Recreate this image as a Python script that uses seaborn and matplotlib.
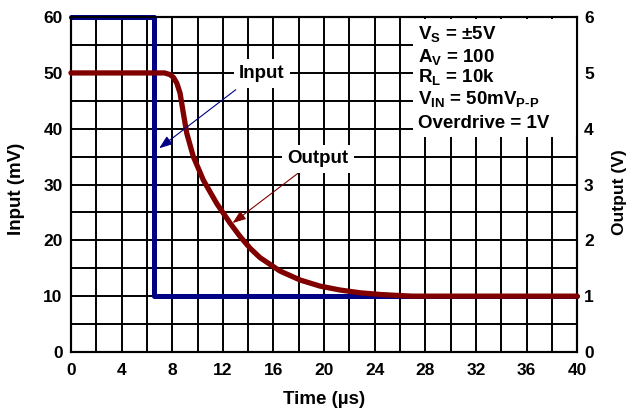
import numpy as np
import pandas as pd
import seaborn as sns
import matplotlib.pyplot as plt
from matplotlib.patches import Rectangle

# input step (mV) and output response (V) vs time (us)
t_in = [0, 6.56, 6.56, 40]
v_in = [60, 60, 10, 10]

t_out = [0, 7.4, 7.83, 8.1, 8.36, 8.62, 8.88, 9.15, 9.67, 10.46, 11.52, 12.57,
         13.36, 14.15, 14.94, 16.52, 18.1, 19.68, 21.26, 22.85, 24.43, 26.0,
         27.0, 40]
v_out = [5.0, 5.0, 4.97, 4.92, 4.82, 4.64, 4.28, 3.92, 3.5, 3.08, 2.66, 2.31,
         2.07, 1.86, 1.69, 1.45, 1.29, 1.18, 1.11, 1.06, 1.03, 1.01,
         1.0, 1.0]

x_ticks = np.arange(0, 41, 4)
y_ticks_mv = np.arange(0, 61, 10)
y_ticks_v = np.arange(0, 7, 1)

conditions = [r'V$_{\mathbf{S}}$ = ±5V',
              r'A$_{\mathbf{V}}$ = 100',
              r'R$_{\mathbf{L}}$ = 10k',
              r'V$_{\mathbf{IN}}$ = 50mV$_{\mathbf{P\text{-}P}}$',
              'Overdrive = 1V']

sns.set_style('white')
plt.rcParams['font.family'] = ['Liberation Sans', 'DejaVu Sans']
plt.rcParams['font.weight'] = 'bold'
plt.rcParams['mathtext.fontset'] = 'custom'
plt.rcParams['mathtext.rm'] = 'Liberation Sans:bold'
plt.rcParams['mathtext.bf'] = 'Liberation Sans:bold'
for k in ('text.color', 'axes.labelcolor', 'xtick.color', 'ytick.color'):
    plt.rcParams[k] = 'black'

navy = '#000085'
maroon = '#800000'
fs = 13.5

fig, ax = plt.subplots(figsize=(6.28, 4.18), dpi=100)
fig.subplots_adjust(left=0.113, right=0.919, top=0.959, bottom=0.158)

dfi = pd.DataFrame({'t': t_in, 'v': v_in})
sns.lineplot(data=dfi, x='t', y='v', sort=False, estimator=None,
             color=navy, lw=3.6, ax=ax, zorder=3, clip_on=False)

ax.set_xlim(0, 40)
ax.set_ylim(0, 60)
ax.set_xticks(x_ticks)
ax.set_yticks(y_ticks_mv)
ax.set_xticks(np.arange(0, 41, 2), minor=True)
ax.set_yticks(np.arange(0, 61, 5), minor=True)
ax.grid(which='both', color='black', lw=1.4)
ax.set_axisbelow(True)
ax.tick_params(which='both', length=0, labelsize=12.5)
ax.tick_params(axis='y', pad=6)
ax.tick_params(axis='x', pad=8)
ax.set_xlabel('Time (µs)', fontsize=fs, fontweight='bold')
ax.set_ylabel('Input (mV)', fontsize=fs, fontweight='bold')
ax.xaxis.set_label_coords(0.5, -0.117)
ax.yaxis.set_label_coords(-0.091, 0.487)

ax2 = ax.twinx()
dfo = pd.DataFrame({'t': t_out, 'v': v_out})
sns.lineplot(data=dfo, x='t', y='v', sort=False, estimator=None,
             color=maroon, lw=3.8, ax=ax2, zorder=3, clip_on=False)
ax2.set_ylim(0, 6)
ax2.set_yticks(y_ticks_v)
ax2.tick_params(length=0, labelsize=12.5, pad=5)
ax2.set_ylabel('Output (V)', fontsize=12.5, fontweight='bold')
ax2.yaxis.set_label_coords(1.068, 0.478)
ax2.grid(False)
for a in (ax, ax2):
    for s in a.spines.values():
        s.set_color('black')
        s.set_linewidth(1.5)

# white box behind the test conditions
ax2.add_patch(Rectangle((27.0, 3.85), 12.9, 2.12, facecolor='white',
                        edgecolor='none', zorder=2))
ys = [5.68, 5.27, 4.91, 4.52, 4.09]
for s, y in zip(conditions, ys):
    ax2.text(27.4, y, s, fontsize=fs, fontweight='bold', va='center', ha='left',
             zorder=4)

ax2.text(15.1, 4.99, 'Input', fontsize=fs, fontweight='bold', ha='center',
         va='center', zorder=4,
         bbox=dict(facecolor='white', edgecolor='none', pad=4))
ax2.annotate('', xy=(6.8, 3.62), xytext=(13.2, 4.73),
             arrowprops=dict(arrowstyle='-|>,head_length=0.8,head_width=0.3',
                             color=navy, lw=0.8), zorder=4)

ax2.text(19.5, 3.46, 'Output', fontsize=fs, fontweight='bold', ha='center',
         va='center', zorder=4,
         bbox=dict(facecolor='white', edgecolor='none', pad=4))
ax2.annotate('', xy=(12.6, 2.28), xytext=(18.1, 3.23),
             arrowprops=dict(arrowstyle='-|>,head_length=0.8,head_width=0.3',
                             color=maroon, lw=0.8), zorder=4)

fig.savefig('out.png', dpi=100)
